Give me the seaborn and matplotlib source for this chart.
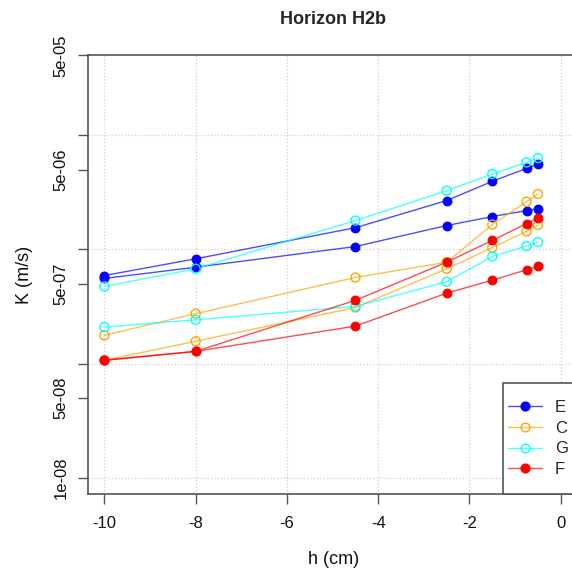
import numpy as np
import pandas as pd
import matplotlib
matplotlib.use("Agg")
import matplotlib.pyplot as plt
import seaborn as sns
from matplotlib.lines import Line2D
from matplotlib.patches import Rectangle
from matplotlib.ticker import FixedLocator, NullFormatter

# ---- data ----
h = [-10, -8, -4.5, -2.5, -1.5, -0.75, -0.5]
E1 = [5.91e-7, 8.28e-7, 1.55e-6, 2.68e-6, 3.95e-6, 5.13e-6, 5.60e-6]
E2 = [5.57e-7, 6.99e-7, 1.06e-6, 1.62e-6, 1.94e-6, 2.19e-6, 2.28e-6]
C1 = [1.77e-7, 2.74e-7, 5.68e-7, 7.73e-7, 1.65e-6, 2.62e-6, 3.06e-6]
C2 = [1.07e-7, 1.57e-7, 3.10e-7, 6.77e-7, 1.04e-6, 1.44e-6, 1.64e-6]
G1 = [4.74e-7, 6.77e-7, 1.79e-6, 3.27e-6, 4.58e-6, 5.78e-6, 6.32e-6]
G2 = [2.09e-7, 2.42e-7, 3.17e-7, 5.21e-7, 8.67e-7, 1.07e-6, 1.16e-6]
F1 = [1.07e-7, 1.28e-7, 3.58e-7, 7.73e-7, 1.20e-6, 1.68e-6, 1.89e-6]
F2 = [1.07e-7, 1.28e-7, 2.13e-7, 4.14e-7, 5.38e-7, 6.63e-7, 7.09e-7]

groups = ["E", "C", "G", "F"]
group_reps = {"E": [E1, E2], "C": [C1, C2], "G": [G1, G2], "F": [F1, F2]}
group_colors = {"E": "#0000ff", "C": "#ffa500", "G": "#00ffff", "F": "#ff0000"}
group_filled = {"E": True, "C": False, "G": False, "F": True}

y_ticks = [1e-8, 5e-8, 1e-7, 5e-7, 1e-6, 5e-6, 1e-5, 5e-5]
y_ticklabels = ["1e-08", "5e-08", "", "5e-07", "", "5e-06", "", "5e-05"]
y_grid = [1e-8, 1e-7, 1e-6, 1e-5]
x_ticks = [-10, -8, -6, -4, -2, 0]

rows = []
for g in groups:
    for r, vals in enumerate(group_reps[g]):
        for xv, yv in zip(h, vals):
            rows.append({"group": g, "rep": f"{g}{r+1}", "h": xv, "K": yv})
df = pd.DataFrame(rows)

# ---- style ----
sns.set_style("white")
plt.rcParams["font.family"] = ["Liberation Sans", "DejaVu Sans"]
plt.rcParams["axes.unicode_minus"] = False

fig = plt.figure(figsize=(5.72, 5.69), dpi=100)
ax = fig.add_axes([88 / 572, 1 - 494 / 569, (579 - 88) / 572, (494 - 55) / 569])

axis_col = "#555555"

for g in groups:
    sub = df[df["group"] == g]
    col = group_colors[g]
    sns.lineplot(data=sub, x="h", y="K", units="rep", estimator=None,
                 color=col, alpha=0.7, lw=1.0, ax=ax, legend=False, zorder=2)
    if group_filled[g]:
        sns.scatterplot(data=sub, x="h", y="K", marker="o", s=40,
                        color=col, edgecolor=col, linewidth=0.8,
                        ax=ax, legend=False, zorder=3)
    else:
        sns.scatterplot(data=sub, x="h", y="K", marker="o", s=42,
                        facecolor="none", edgecolor=col, linewidth=1.0,
                        ax=ax, legend=False, zorder=3)

ax.set_yscale("log")
ax.set_xlim(-10.36, 0.4)
ax.set_ylim(10 ** -8.142, 10 ** -4.297)

ax.yaxis.set_major_locator(FixedLocator(y_ticks))
ax.set_yticklabels(y_ticklabels)
ax.yaxis.set_minor_locator(FixedLocator(y_grid))
ax.yaxis.set_minor_formatter(NullFormatter())
ax.yaxis.remove_overlapping_locs = False
ax.set_xticks(x_ticks)
ax.set_xticklabels([str(v) for v in x_ticks])

ax.grid(False)
ax.grid(True, which="minor", axis="y", linestyle=":", color="#d0d0d0", lw=0.9)
ax.grid(True, which="major", axis="x", linestyle=":", color="#d0d0d0", lw=0.9)
ax.set_axisbelow(True)

ax.tick_params(axis="both", which="major", direction="out", length=7.2,
               width=1.0, color=axis_col, labelsize=12, labelcolor="#111111",
               left=True, bottom=True)
ax.tick_params(axis="y", which="minor", length=0, left=False)
ax.tick_params(axis="y", which="major", pad=7)
ax.tick_params(axis="x", which="major", pad=8.5)
for lab in ax.get_yticklabels():
    lab.set_rotation(90)
    lab.set_va("center")
    lab.set_ha("right")

for s in ["left", "top", "bottom", "right"]:
    ax.spines[s].set_visible(True)
    ax.spines[s].set_color(axis_col)
    ax.spines[s].set_linewidth(1.2)

ax.set_xlabel("h (cm)", fontsize=13, color="#111111")
ax.set_ylabel("K (m/s)", fontsize=13, color="#111111")
ax.xaxis.set_label_coords(0.5, (494 - 559) / 439)
ax.yaxis.set_label_coords((25 - 88) / 491, 0.5)
ax.xaxis.label.set_va("center")
ax.yaxis.label.set_va("center")

ax.set_title("Horizon H2b", fontsize=13, fontweight="bold",
             y=(494 - 19) / 439, va="center", pad=0)

# ---- legend ----
box_x0 = (503 - 88) / 491
box_h = (494 - 383) / 439
ax.add_patch(Rectangle((box_x0, 0), 1 - box_x0, box_h, transform=ax.transAxes,
                       facecolor="white", edgecolor=axis_col, lw=1.2,
                       zorder=5, clip_on=False))
handles = []
for g in groups:
    col = group_colors[g]
    line_rgba = matplotlib.colors.to_rgba(col, 0.7)
    handles.append(Line2D([], [], color=line_rgba, lw=1.0, marker="o",
                          markersize=6.3,
                          markerfacecolor=col if group_filled[g] else "none",
                          markeredgecolor=col, markeredgewidth=1.0))
leg = ax.legend(handles, groups, loc="upper left",
                bbox_to_anchor=((508 - 88) / 491, (494 - 400) / 439),
                frameon=False, borderpad=0, borderaxespad=0,
                handlelength=2.04, handletextpad=0.78, labelspacing=0.34,
                fontsize=12)
leg.set_zorder(6)

fig.savefig("out.png", dpi=100)
